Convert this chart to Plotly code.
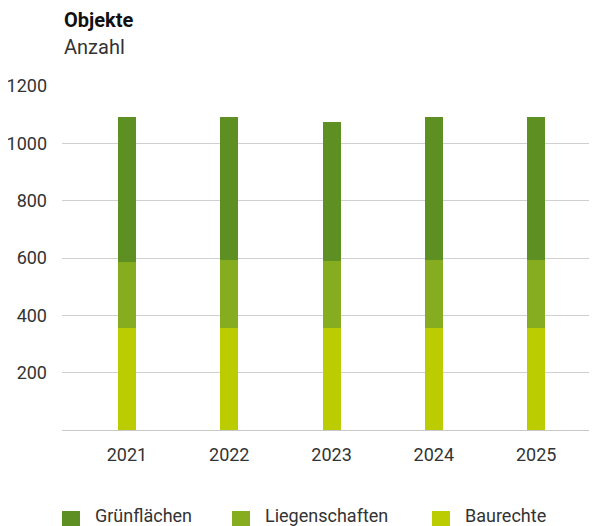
import plotly.graph_objects as go

years = ["2021", "2022", "2023", "2024", "2025"]
series_names = ["Grünflächen", "Liegenschaften", "Baurechte"]
baurechte = [355, 355, 355, 355, 355]
liegenschaften = [230, 237, 234, 237, 237]
gruenflaechen = [507, 500, 484, 500, 500]
y_ticks = [200, 400, 600, 800, 1000, 1200]

colors = {"Grünflächen": "#5e8f22", "Liegenschaften": "#86ac1f", "Baurechte": "#bbcc00"}
FONT = "Roboto, Arial, sans-serif"
TXT = "#333333"

# page body has an 8px default margin; work in window pixels and subtract it
OFF = 8
W, H = 597 - OFF, 526 - OFF
ML, MR, MT, MB = 62 - OFF, 0, 86 - OFF, 96
PW, PH = W - ML - MR, H - MT - MB


def px(x):
    return (x - OFF - ML) / PW


def py(y):
    return (H - MB - (y - OFF)) / PH


fig = go.Figure()
for name, vals in [("Baurechte", baurechte), ("Liegenschaften", liegenschaften), ("Grünflächen", gruenflaechen)]:
    fig.add_trace(go.Bar(x=years, y=vals, name=name, marker=dict(color=colors[name], line=dict(width=0)),
                         width=0.176, showlegend=False))

fig.update_layout(
    width=W, height=H, barmode="stack",
    margin=dict(l=ML, r=MR, t=MT, b=MB, pad=0),
    paper_bgcolor="white", plot_bgcolor="white",
    font=dict(family=FONT, size=18, color=TXT),
    xaxis=dict(type="category", range=[-0.635, 4.595], showgrid=False, showline=True,
               linecolor="#c8c8c8", linewidth=1, ticks="", ticklabelstandoff=8,
               tickfont=dict(size=18, color=TXT)),
    yaxis=dict(range=[0, 1200], tickvals=y_ticks, showgrid=True, gridcolor="#d0d0d0", gridwidth=1,
               zeroline=False, showline=False, ticks="", ticklabelstandoff=14,
               tickfont=dict(size=18, color=TXT)),
)

annotations = [
    dict(text="<b>Objekte</b>", x=px(62), y=py(20), xanchor="left", yanchor="middle",
         font=dict(size=20, color="#111111", family=FONT)),
    dict(text="Anzahl", x=px(62), y=py(47), xanchor="left", yanchor="middle",
         font=dict(size=20, color=TXT, family=FONT)),
]
shapes = []
legend_x = [62, 232, 432]
for name, lx in zip(series_names, legend_x):
    shapes.append(dict(type="rect", xref="paper", yref="paper", x0=px(lx), x1=px(lx + 18),
                       y0=py(511), y1=py(529), fillcolor=colors[name], line=dict(width=0)))
    annotations.append(dict(text=name, x=px(lx + 31), y=py(515), xanchor="left", yanchor="middle",
                            font=dict(size=18, color=TXT, family=FONT)))

for a in annotations:
    a.update(xref="paper", yref="paper", showarrow=False, align="left")
fig.update_layout(annotations=annotations, shapes=shapes)

fig.write_html("out.html")
